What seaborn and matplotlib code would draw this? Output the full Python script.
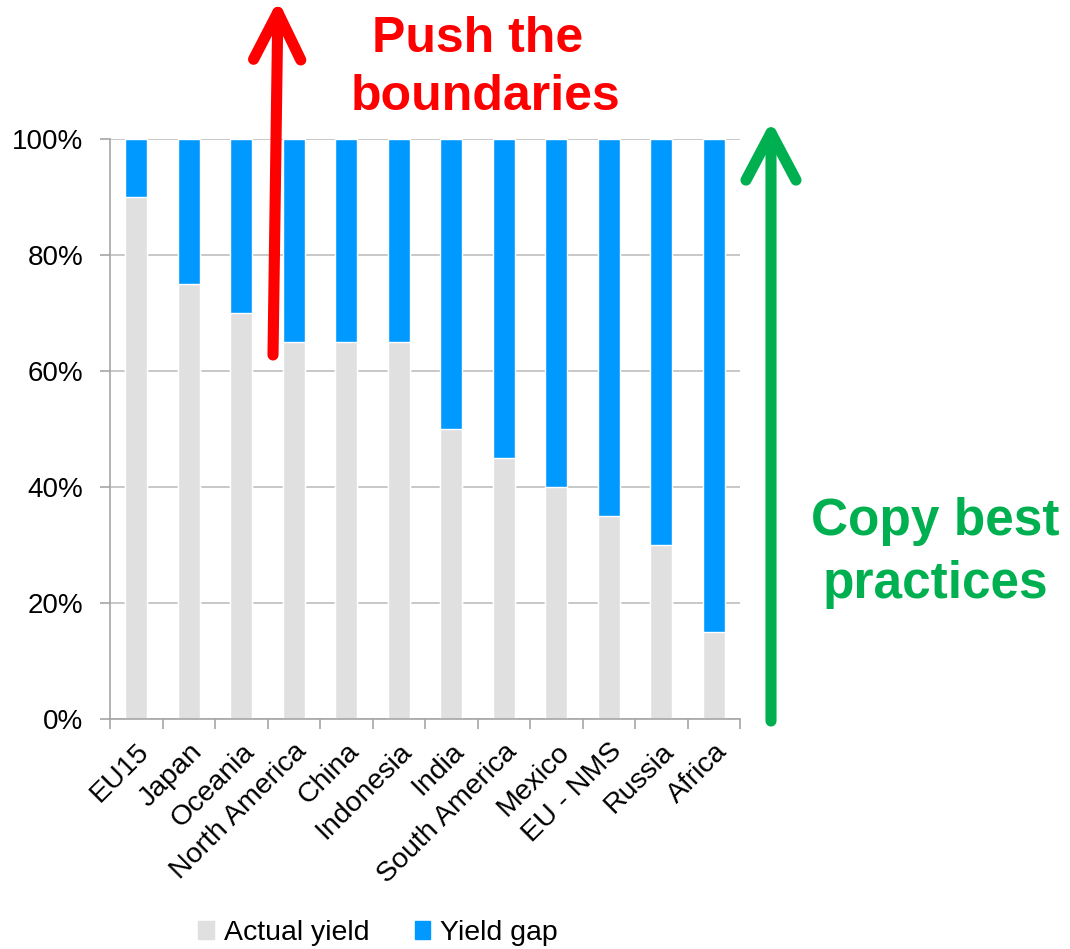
import numpy as np
import pandas as pd
import seaborn as sns
from matplotlib import pyplot as plt
from matplotlib.patches import FancyArrowPatch, Patch
from matplotlib.ticker import PercentFormatter, FixedLocator

regions = ['EU15', 'Japan', 'Oceania', 'North America', 'China', 'Indonesia',
           'India', 'South America', 'Mexico', 'EU - NMS', 'Russia', 'Africa']
actual_yield = [90, 75, 70, 65, 65, 65, 50, 45, 40, 35, 30, 15]
yield_gap = [100 - v for v in actual_yield]

gray = '#E0E0E0'
blue = '#0099FF'
red = '#FF0000'
green = '#00B050'

sns.set_theme(style='white')
plt.rcParams['font.family'] = ['Liberation Sans', 'DejaVu Sans']

df = pd.DataFrame({'region': regions, 'actual': actual_yield,
                   'total': np.array(actual_yield) + np.array(yield_gap)})

W, H = 1070, 949
fig = plt.figure(figsize=(W / 100, H / 100), dpi=100)
ax = fig.add_axes([110 / W, 1 - 719 / H, 630 / W, 580 / H])

sns.barplot(data=df, x='region', y='total', color=blue, width=0.42,
            saturation=1, ax=ax)
sns.barplot(data=df, x='region', y='actual', color=gray, width=0.42,
            saturation=1, ax=ax)

ax.set_xlim(-0.5, len(regions) - 0.5)
ax.set_ylim(0, 100)
ax.set_yticks(range(0, 101, 20))
ax.yaxis.set_major_formatter(PercentFormatter(decimals=0))
ax.yaxis.grid(True, color='#BFBFBF', lw=1.2)
ax.set_axisbelow(True)
ax.set_xlabel('')
ax.set_ylabel('')

ax.set_xticks(range(len(regions)))
ax.set_xticklabels(regions, rotation=45, ha='right', rotation_mode='anchor')
ax.xaxis.set_minor_locator(FixedLocator(np.arange(-0.5, len(regions), 1)))
ax.tick_params(axis='x', which='major', length=0, labelsize=20.5, pad=14,
               labelcolor='black')
ax.tick_params(axis='x', which='minor', length=7, color='#A6A6A6', width=1.2,
               direction='out', bottom=True)
ax.tick_params(axis='y', length=7, color='#A6A6A6', width=1.2, labelsize=20,
               left=True, pad=12, labelcolor='black')
for side in ['top', 'right']:
    ax.spines[side].set_visible(False)
for side in ['left', 'bottom']:
    ax.spines[side].set_color('#A6A6A6')
    ax.spines[side].set_linewidth(1.2)


def px(x, y):
    return (x / W, 1 - y / H)


red_arrow = FancyArrowPatch(px(273, 355), px(278, 0), transform=fig.transFigure,
                            arrowstyle='->,head_length=34,head_width=17',
                            mutation_scale=1, color=red, lw=8,
                            shrinkA=0, shrinkB=0,
                            capstyle='round', joinstyle='round')
green_arrow = FancyArrowPatch(px(771, 721), px(771, 121), transform=fig.transFigure,
                              arrowstyle='->,head_length=34,head_width=18',
                              mutation_scale=1, color=green, lw=8,
                              shrinkA=0, shrinkB=0,
                              capstyle='round', joinstyle='round')
fig.patches.extend([red_arrow, green_arrow])

fig.text(485 / W, 1 - 68 / H, 'Push the \nboundaries', color=red, fontsize=36,
         fontweight='bold', ha='center', va='center', linespacing=1.35)
fig.text(935 / W, 1 - 553 / H, 'Copy best\npractices', color=green, fontsize=37,
         fontweight='bold', ha='center', va='center', linespacing=1.38)

handles = [Patch(color=gray, label='Actual yield'), Patch(color=blue, label='Yield gap')]
fig.legend(handles=handles, loc='center', bbox_to_anchor=(378 / W, 1 - 933 / H),
           ncol=2, frameon=False, fontsize=20.5, handlelength=0.55, handleheight=0.55,
           handletextpad=0.35, columnspacing=1.6, labelcolor='black')

fig.savefig('out.png', dpi=100)
